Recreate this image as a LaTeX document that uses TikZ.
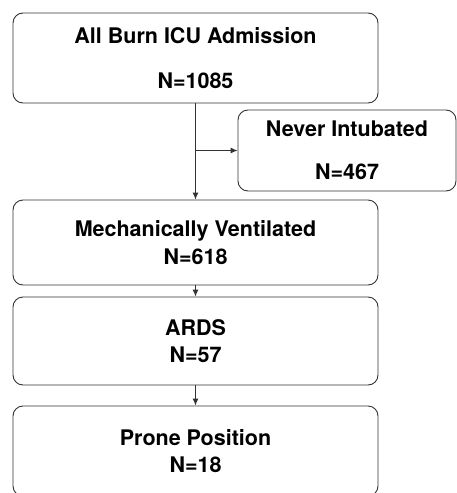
\documentclass[tikz,border=0pt]{standalone}
\usepackage{fontspec}
\setmainfont{TeX Gyre Heros}
\usetikzlibrary{positioning}
\usetikzlibrary{arrows.meta}
\tikzset{>=latex}
\colorlet{myline}{black!80}
\tikzstyle{mybox}=[draw=myline,line width=0.9pt,rounded corners=10pt,align=center,
                   font=\fontsize{21.5}{26}\selectfont\bfseries,inner sep=0pt]
\tikzstyle{mysmallarrow}=[-{Latex[length=7,width=6]},myline,line width=0.9pt]

\begin{document}
\begin{tikzpicture}[x=1pt,y=-1pt]
  \useasboundingbox (0,0) rectangle (457,493);
  \def\w{365} % width of the main boxes

  % 0
  \node[mybox,minimum width=\w pt,minimum height=90pt] (0) at (195.5,58) {
    All Burn ICU Admission \\[19pt]
    N=1085
  };

  % 00
  \node[mybox,minimum width=218pt,minimum height=81pt] (00) at (347,150.5) {
    Never Intubated \\[17pt]
    N=467
  };

  % 01
  \node[mybox,minimum width=\w pt,minimum height=85pt] (01) at (195.5,242.5) {
    Mechanically Ventilated \\[1.5pt]
    N=618
  };

  % 011
  \node[mybox,minimum width=\w pt,minimum height=88pt] (011) at (195.5,341) {
    ARDS \\[1pt]
    N=57
  };

  % 0111
  \node[mybox,minimum width=\w pt,minimum height=90pt] (0111) at (195.5,451) {
    Prone Position \\[1pt]
    N=18
  };

  % ARROWS
  \draw[mysmallarrow] (0) -- (01);
  \coordinate (split) at (0.south |- 00.west);
  \draw[mysmallarrow] (split) -- (00);
  \draw[mysmallarrow] (01) -- (011);
  \draw[mysmallarrow] (011) -- (0111);

\end{tikzpicture}
\end{document}
